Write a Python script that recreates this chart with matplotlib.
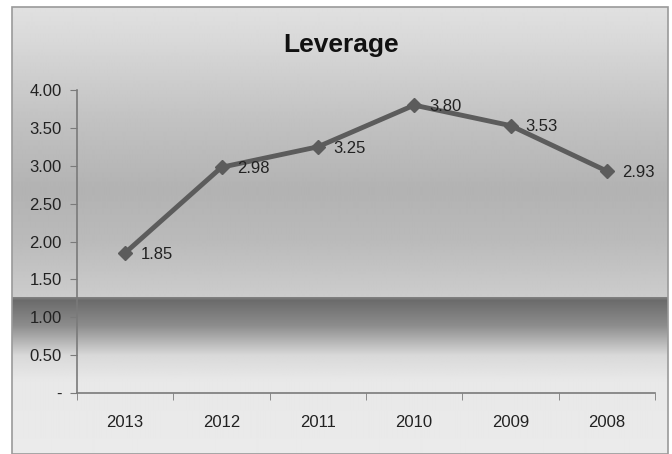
import matplotlib
matplotlib.use("Agg")
import matplotlib.pyplot as plt
import numpy as np
from matplotlib.patches import Rectangle

years = ["2013", "2012", "2011", "2010", "2009", "2008"]
leverage = [1.85, 2.98, 3.25, 3.80, 3.53, 2.93]
yticks = [0, 0.5, 1.0, 1.5, 2.0, 2.5, 3.0, 3.5, 4.0]
ytick_labels = ["-", "0.50", "1.00", "1.50", "2.00", "2.50", "3.00", "3.50", "4.00"]

W, H = 672, 454
plt.rcParams['font.family'] = ['Liberation Sans Narrow', 'Liberation Sans', 'DejaVu Sans']

fig = plt.figure(figsize=(W / 100, H / 100), dpi=100)
fig.patch.set_facecolor("white")

# background panel: vertical grey gradient with a dark band lower down
bg = fig.add_axes([12 / W, 0, 656 / W, 447 / H], zorder=0)
rows = np.arange(7, H)
stops_y = [7, 40, 120, 190, 240, 296, 297, 300, 325, 355, 380, 454]
stops_v = [0.88, 0.85, 0.76, 0.70, 0.73, 0.80, 0.50, 0.42, 0.55, 0.85, 0.91, 0.92]
shade = np.interp(rows, stops_y, stops_v)
img = np.repeat(shade[:, None], 4, axis=1)
bg.imshow(img, cmap="gray", vmin=0, vmax=1, aspect="auto",
          extent=[0, 1, 0, 1], interpolation="bilinear")
bg.set_axis_off()
fig.patches.append(Rectangle((12 / W, 0), 656 / W, 447 / H, transform=fig.transFigure,
                             fill=False, edgecolor="#9a9a9a", linewidth=1.2, zorder=1))

ax = fig.add_axes([77 / W, (H - 393) / H, (655 - 77) / W, (393 - 90) / H], zorder=2)
ax.patch.set_alpha(0)
x = np.arange(len(years))
ax.plot(x, leverage, color="#5c5c5c", linewidth=3.5, marker="D", markersize=7,
        markerfacecolor="#5c5c5c", markeredgecolor="#5c5c5c")
for xi, v in zip(x, leverage):
    ax.annotate(f"{v:.2f}", (xi, v), xytext=(11, -1), textcoords="offset points",
                ha="left", va="center", fontsize=12, color="#222222")

ax.set_xlim(-0.5, len(years) - 0.5)
ax.set_ylim(0, 4)
ax.set_yticks(yticks)
ax.set_yticklabels(ytick_labels)
ax.set_xticks(x)
ax.set_xticklabels(years)
ax.set_xticks(np.arange(-0.5, len(years)), minor=True)
ax.tick_params(axis="x", which="major", length=0, pad=16, labelsize=12, colors="#222222")
ax.tick_params(axis="x", which="minor", length=5, color="#7a7a7a", direction="out")
ax.tick_params(axis="y", length=5, color="#7a7a7a", pad=6, labelsize=12, labelcolor="#222222")
for s in ["top", "right"]:
    ax.spines[s].set_visible(False)
for s in ["left", "bottom"]:
    ax.spines[s].set_color("#7a7a7a")
    ax.spines[s].set_linewidth(1.2)

fig.text(341 / W, 1 - 45 / H, "Leverage", ha="center", va="center",
         fontsize=19, fontweight="bold", color="#111111",
         family=['Liberation Sans Narrow', 'Liberation Sans', 'DejaVu Sans'])

fig.savefig("out.png", dpi=100)
